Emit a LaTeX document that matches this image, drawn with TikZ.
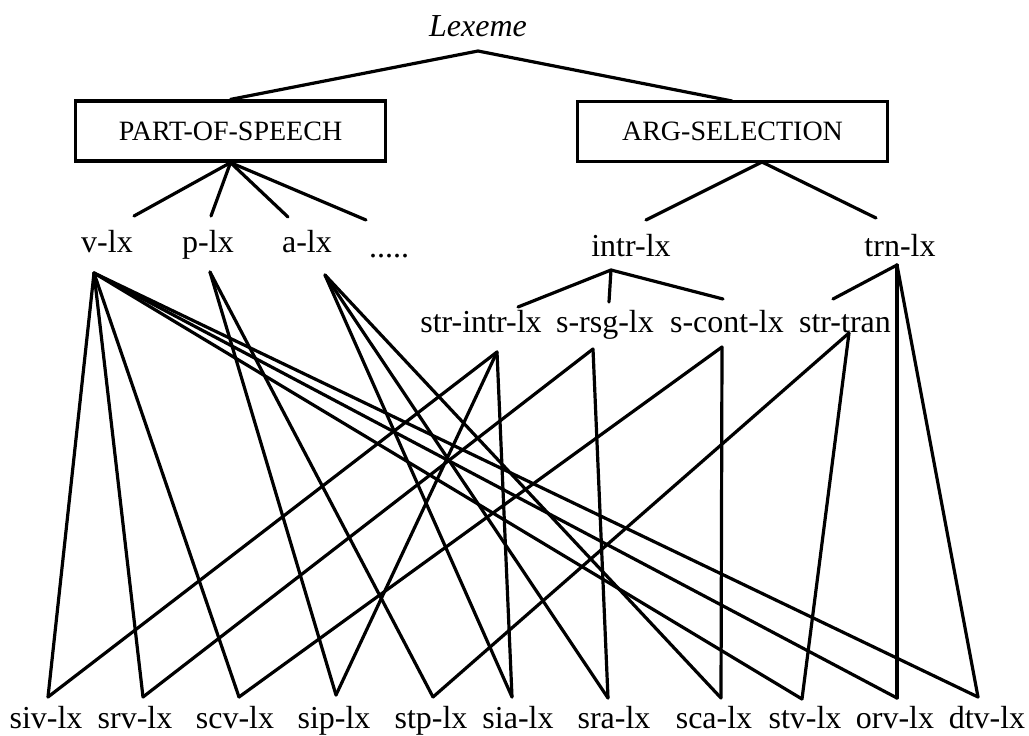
\documentclass[tikz,border=0pt]{standalone}
\usepackage{fontspec}
\setmainfont{Liberation Serif}
\begin{document}
\begin{tikzpicture}[x=0.75pt,y=-0.75pt,
  lbl/.style={font=\fontsize{24}{28}\selectfont, inner sep=0pt, anchor=base},
  catbox/.style={draw, line width=2.4pt, inner sep=0pt, minimum height=45pt,
                 font=\fontsize{21}{25}\selectfont},
  link/.style={line width=2.4pt, line cap=round, line join=round}]
\useasboundingbox (0,0) rectangle (1029,736);

% root of the hierarchy
\node[lbl, font=\fontsize{24}{28}\selectfont\itshape] (lexeme) at (478,36) {Lexeme};
\coordinate (lexeme-b) at (478,51);

% the two dimensions
\node[catbox, minimum width=233pt] (pos) at (230.5,131) {PART-OF-SPEECH};
\node[catbox, minimum width=232pt] (arg) at (732.5,131.5) {ARG-SELECTION};
\coordinate (arg-t) at (732,101);
\coordinate (arg-b) at (762,162);

% part-of-speech types
\node[lbl] (vlx) at (107,252) {v-lx};
\coordinate (vlx-t) at (134,216); \coordinate (vlx-b) at (94,273);
\node[lbl] (plx) at (208,252) {p-lx};
\coordinate (plx-t) at (211,216); \coordinate (plx-b) at (210,272);
\node[lbl] (alx) at (307,252) {a-lx};
\coordinate (alx-t) at (288,217); \coordinate (alx-b) at (325,275);
\node[lbl] (more) at (389,257) {.....};
\coordinate (more-t) at (366,220);

% argument-selection types
\node[lbl] (intr) at (631,256) {intr-lx};
\coordinate (intr-t) at (646,220); \coordinate (intr-b) at (611,270);
\node[lbl] (trn) at (900,256) {trn-lx};
\coordinate (trn-t) at (876,218); \coordinate (trn-b) at (897,265);

\node[lbl] (strintr) at (481,332) {str-intr-lx};
\coordinate (strintr-t) at (518,307); \coordinate (strintr-b) at (497,352);
\node[lbl] (srsg) at (605,332) {s-rsg-lx};
\coordinate (srsg-t) at (609,302); \coordinate (srsg-b) at (593,349);
\node[lbl] (scont) at (727,332) {s-cont-lx};
\coordinate (scont-t) at (723,299); \coordinate (scont-b) at (722,347);
\node[lbl] (strtran) at (845,332) {str-tran};
\coordinate (strtran-t) at (833,299); \coordinate (strtran-b) at (849,333);

% leaf types
\foreach \n/\x/\tx/\ty in {siv/46/48/697, srv/135/143/697, scv/235/239/697,
    sip/334/336/695, stp/431/433/697, sia/518/512/697, sra/614/608/698,
    sca/714/721/698, stv/805/802/699, orv/895/897/698, dtv/987/978/697}{
  \node[lbl] (\n) at (\x,728) {\n-lx};
  \coordinate (\n-t) at (\tx,\ty);
}

% upper tree
\draw[link] (pos.north) -- (lexeme-b) -- (arg-t);
\foreach \c in {vlx,plx,alx,more} \draw[link] (pos.south) -- (\c-t);
\foreach \c in {intr,trn} \draw[link] (arg-b) -- (\c-t);
\foreach \c in {strintr,srsg,scont} \draw[link] (intr-b) -- (\c-t);
\draw[link] (trn-b) -- (strtran-t);

% cross-classification of the leaf types
\foreach \c in {siv,srv,scv,stv,orv,dtv} \draw[link] (vlx-b) -- (\c-t);
\foreach \c in {sip,stp} \draw[link] (plx-b) -- (\c-t);
\foreach \c in {sia,sra,sca} \draw[link] (alx-b) -- (\c-t);
\foreach \c in {siv,sip,sia} \draw[link] (strintr-b) -- (\c-t);
\foreach \c in {srv,sra} \draw[link] (srsg-b) -- (\c-t);
\foreach \c in {scv,sca} \draw[link] (scont-b) -- (\c-t);
\foreach \c in {stp,stv} \draw[link] (strtran-b) -- (\c-t);
\foreach \c in {orv,dtv} \draw[link] (trn-b) -- (\c-t);
\end{tikzpicture}
\end{document}
